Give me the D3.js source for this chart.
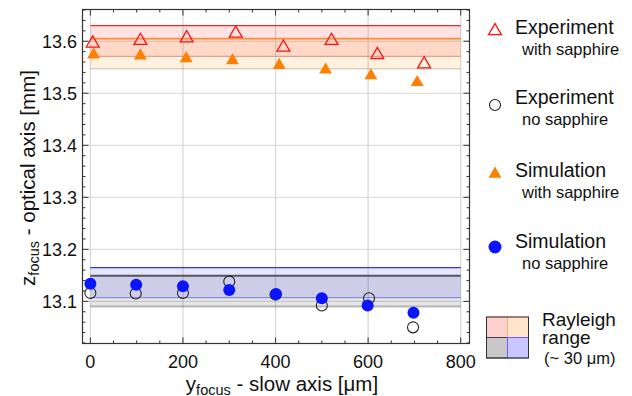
<!DOCTYPE html>
<html>
<head>
<meta charset="utf-8">
<script src="https://cdn.jsdelivr.net/npm/d3@7"></script>
<style>
  body { margin: 0; background: #fff; }
  svg { display: block; font-family: "Liberation Sans", Arial, sans-serif; }
</style>
</head>
<body>
<svg id="chart" width="632" height="396"></svg>
<script>
// --- Data ---
const expWithX = [5, 108, 208, 314, 417, 521, 620, 721];
const expWithY = [13.596, 13.601, 13.606, 13.615, 13.588, 13.601, 13.574, 13.556];
const simWithX = [7, 108, 207, 307, 408, 508, 606, 706];
const simWithY = [13.574, 13.572, 13.567, 13.563, 13.554, 13.545, 13.534, 13.521];
const expNoX = [0, 98, 200, 300, 400, 500, 602, 697];
const expNoY = [13.116, 13.115, 13.116, 13.138, 13.113, 13.092, 13.106, 13.050];
const simNoX = [0, 99, 200, 300, 401, 500, 599, 698];
const simNoY = [13.134, 13.132, 13.129, 13.122, 13.114, 13.106, 13.092, 13.078];

// Rayleigh ranges: [low, high], drawn from x=0 to x=800
const bandNames = ["red", "orange", "gray", "blue"];
const bandLow = [13.571, 13.547, 13.090, 13.107];
const bandHigh = [13.630, 13.605, 13.149, 13.165];

const xTicks = [0, 200, 400, 600, 800];
const yTicks = [13.1, 13.2, 13.3, 13.4, 13.5, 13.6];

// --- Layout ---
const svg = d3.select("#chart");
const pl = 82.5, pr = 469.5, pt = 9.5, pb = 343.5;
const x = d3.scaleLinear().domain([-17, 819]).range([pl, pr]);
const y = d3.scaleLinear().domain([13.019, 13.661]).range([pb, pt]);

// gridlines
const grid = svg.append("g");
grid.selectAll("line.gx").data(xTicks).join("line")
  .attr("x1", d => x(d)).attr("x2", d => x(d))
  .attr("y1", pt).attr("y2", pb)
  .attr("stroke", "#d6d6d6").attr("stroke-width", 1.2);
grid.selectAll("line.gy").data(yTicks).join("line")
  .attr("x1", pl).attr("x2", pr)
  .attr("y1", d => y(d)).attr("y2", d => y(d))
  .attr("stroke", "#d6d6d6").attr("stroke-width", 1);

// --- Bands ---
const bandFill = { red: "rgba(255,0,0,0.11)", orange: "rgba(255,140,0,0.12)", gray: "rgba(0,0,0,0.1)", blue: "rgba(0,0,255,0.1)" };
const bandTop = { red: "#ff2020", orange: "#f09040", gray: "#55555e", blue: "#3030ff" };
const bandTopW = { red: 1.2, orange: 1.6, gray: 2, blue: 1.2 };
const bandBot = { red: "rgba(170,40,20,0.45)", orange: "rgba(150,90,40,0.4)", gray: "rgba(90,90,90,0.4)", blue: "rgba(40,40,230,0.55)" };
const bandBotW = { red: 1, orange: 1, gray: 2, blue: 1 };
const bands = bandNames.map((n, i) => ({ n, lo: bandLow[i], hi: bandHigh[i] }));
const bg = svg.append("g");
bg.selectAll("rect").data(bands).join("rect")
  .attr("x", x(0)).attr("width", x(800) - x(0))
  .attr("y", d => y(d.hi)).attr("height", d => y(d.lo) - y(d.hi))
  .attr("fill", d => bandFill[d.n]);
bg.selectAll("line.bl").data(bands).join("line").attr("class", "bl")
  .attr("x1", x(0)).attr("x2", x(800))
  .attr("y1", d => y(d.lo)).attr("y2", d => y(d.lo))
  .attr("stroke", d => bandBot[d.n]).attr("stroke-width", d => bandBotW[d.n]);
bg.selectAll("line.bt").data(bands).join("line").attr("class", "bt")
  .attr("x1", x(0)).attr("x2", x(800))
  .attr("y1", d => y(d.hi)).attr("y2", d => y(d.hi))
  .attr("stroke", d => bandTop[d.n]).attr("stroke-width", d => bandTopW[d.n]);

// --- Markers ---
const tri = d3.symbol().type(d3.symbolTriangle).size(72)();
const zip = (a, b) => a.map((v, i) => [v, b[i]]);
const pts = svg.append("g");
pts.selectAll("circle.en").data(zip(expNoX, expNoY)).join("circle")
  .attr("cx", d => x(d[0])).attr("cy", d => y(d[1])).attr("r", 5.5)
  .attr("fill", "none").attr("stroke", "#222").attr("stroke-width", 1.1);
pts.selectAll("circle.sn").data(zip(simNoX, simNoY)).join("circle")
  .attr("cx", d => x(d[0])).attr("cy", d => y(d[1])).attr("r", 6)
  .attr("fill", "#0a14ff");
pts.selectAll("path.sw").data(zip(simWithX, simWithY)).join("path")
  .attr("d", tri).attr("transform", d => `translate(${x(d[0])},${y(d[1])})`)
  .attr("fill", "#ff8000");
pts.selectAll("path.ew").data(zip(expWithX, expWithY)).join("path")
  .attr("d", tri).attr("transform", d => `translate(${x(d[0])},${y(d[1])})`)
  .attr("fill", "none").attr("stroke", "#ff1010").attr("stroke-width", 1.3);

// --- Frame and ticks ---
const fr = svg.append("g").attr("stroke", "#333");
fr.append("rect").attr("x", pl).attr("y", pt)
  .attr("width", pr - pl).attr("height", pb - pt)
  .attr("fill", "none").attr("stroke-width", 1.2);
const xMinor = d3.range(0, 801, 50);
const yMinor = d3.range(13.02, 13.661, 0.02);
xMinor.forEach(v => {
  const len = v % 200 === 0 ? 6 : 3;
  fr.append("line").attr("x1", x(v)).attr("x2", x(v)).attr("y1", pb).attr("y2", pb - len);
  fr.append("line").attr("x1", x(v)).attr("x2", x(v)).attr("y1", pt).attr("y2", pt + len);
});
yMinor.forEach(v => {
  const major = Math.abs(v * 10 - Math.round(v * 10)) < 1e-6;
  const len = major ? 6 : 3;
  fr.append("line").attr("x1", pl).attr("x2", pl + len).attr("y1", y(v)).attr("y2", y(v));
  fr.append("line").attr("x1", pr).attr("x2", pr - len).attr("y1", y(v)).attr("y2", y(v));
});

// tick labels
svg.selectAll("text.xt").data(xTicks).join("text")
  .attr("x", d => x(d)).attr("y", 368).attr("text-anchor", "middle")
  .attr("font-size", 18).attr("fill", "#111").text(d => d);
svg.selectAll("text.yt").data(yTicks).join("text")
  .attr("x", 77).attr("y", d => y(d) + 6.5).attr("text-anchor", "end")
  .attr("font-size", 18).attr("fill", "#111").text(d => d.toFixed(1));

// axis labels
const xl = svg.append("text").attr("x", 282).attr("y", 390.5)
  .attr("text-anchor", "middle").attr("font-size", 20.5).attr("fill", "#111");
xl.append("tspan").text("y");
xl.append("tspan").attr("font-size", 14.5).attr("dy", 4).text("focus");
xl.append("tspan").attr("dy", -4).text(" - slow axis [μm]");
const yl = svg.append("text").attr("transform", "translate(35,178) rotate(-90)")
  .attr("text-anchor", "middle").attr("font-size", 20.5).attr("fill", "#111");
yl.append("tspan").text("z");
yl.append("tspan").attr("font-size", 14.5).attr("dy", 4).text("focus");
yl.append("tspan").attr("dy", -4).text(" - optical axis [mm]");

// --- Legend ---
const lg = svg.append("g").attr("fill", "#111");
const legTitles = ["Experiment", "Experiment", "Simulation", "Simulation"];
const legSubs = ["with sapphire", "no sapphire", "with sapphire", "no sapphire"];
const legY = [34, 104, 177, 248];
legY.forEach((yy, i) => {
  lg.append("text").attr("x", 515).attr("y", yy).attr("font-size", 19.5).text(legTitles[i]);
  lg.append("text").attr("x", 522).attr("y", yy + 20.5).attr("font-size", 16.5).text(legSubs[i]);
});
lg.append("path").attr("d", tri).attr("transform", `translate(495,${legY[0] - 3})`)
  .attr("fill", "none").attr("stroke", "#ff1010").attr("stroke-width", 1.3);
lg.append("circle").attr("cx", 495).attr("cy", legY[1] + 1).attr("r", 5.5)
  .attr("fill", "none").attr("stroke", "#222").attr("stroke-width", 1.1);
lg.append("path").attr("d", tri).attr("transform", `translate(495,${legY[2] - 3})`)
  .attr("fill", "#ff8000");
lg.append("circle").attr("cx", 495).attr("cy", legY[3] - 1).attr("r", 6.5).attr("fill", "#0a14ff");

// Rayleigh swatch
const sw = svg.append("g");
const quads = [
  { dx: 0, dy: 0, f: "#ffd0d0", s: "#ff8080" },
  { dx: 1, dy: 0, f: "#ffe5cc", s: "#ffb070" },
  { dx: 0, dy: 1, f: "#c8c8c8", s: "#444" },
  { dx: 1, dy: 1, f: "#c8c8ff", s: "#6060ff" },
];
sw.selectAll("rect").data(quads).join("rect")
  .attr("x", d => 486.5 + d.dx * 21).attr("y", d => 317 + d.dy * 20.5)
  .attr("width", 21).attr("height", 20.5)
  .attr("fill", d => d.f).attr("stroke", d => d.s).attr("stroke-width", 1);
sw.append("rect").attr("x", 486.5).attr("y", 317).attr("width", 42).attr("height", 41)
  .attr("fill", "none").attr("stroke", "#333").attr("stroke-width", 1);
lg.append("text").attr("x", 542).attr("y", 326).attr("font-size", 19).text("Rayleigh");
lg.append("text").attr("x", 542).attr("y", 343.5).attr("font-size", 19).text("range");
lg.append("text").attr("x", 544).attr("y", 363.5).attr("font-size", 16.5).text("(~ 30 μm)");
</script>
</body>
</html>
